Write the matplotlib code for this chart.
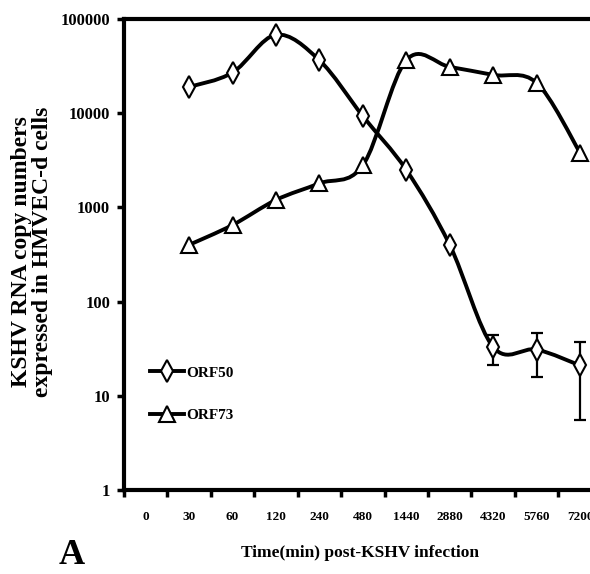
import numpy as np
import matplotlib.pyplot as plt
from matplotlib.path import Path
from matplotlib.patches import PathPatch
from matplotlib.lines import Line2D
from matplotlib.ticker import NullLocator

plt.rcParams['font.family'] = ['Liberation Serif', 'DejaVu Serif']
plt.rcParams['font.weight'] = 'bold'

# time points (categories) and data
times = ['0', '30', '60', '120', '240', '480', '1440', '2880', '4320', '5760', '7200']
data_times = times[1:]
orf50 = [19000, 27000, 68000, 36500, 9300, 2500, 400, 33, 31, 21]
orf73 = [400, 650, 1200, 1800, 2800, 36500, 31000, 25500, 21000, 3800]
err_times = ['4320', '5760', '7200']
err_low = [21, 16, 5.5]
err_high = [44, 46, 37]
y_ticks = [1, 10, 100, 1000, 10000, 100000]


def smooth_path(xs, ys):
    # excel-like smoothed line, built as cubic bezier segments in log space
    p = np.column_stack([np.asarray(xs, float), np.log10(ys)])
    n = len(p)
    verts = [p[0]]
    codes = [Path.MOVETO]
    for i in range(n - 1):
        a = p[max(i - 1, 0)]
        b = p[i]
        c = p[i + 1]
        d = p[min(i + 2, n - 1)]
        verts += [b + (c - a) / 6, c - (d - b) / 6, c]
        codes += [Path.CURVE4] * 3
    verts = np.array(verts)
    verts[:, 1] = 10 ** verts[:, 1]
    return Path(verts, codes)


fig = plt.figure(figsize=(5.9, 5.74), dpi=100)
ax = fig.add_axes([0.210, 0.1463, 0.810, 0.8206])
ax.set_yscale('log')
ax.set_xlim(-0.5, len(times) - 0.5)
ax.set_ylim(1, 100000)

xs = [times.index(t) for t in data_times]
ex = [times.index(t) for t in err_times]
ey = [orf50[data_times.index(t)] for t in err_times]
yerr = [np.array(ey) - np.array(err_low), np.array(err_high) - np.array(ey)]

ax.errorbar(ex, ey, yerr=yerr, fmt='none', ecolor='black', elinewidth=1.6,
            capsize=4.5, capthick=1.6, zorder=2)

for vals in (orf50, orf73):
    ax.add_patch(PathPatch(smooth_path(xs, vals), fill=False, ec='black',
                           lw=2.8, capstyle='round', joinstyle='round', zorder=2))

ax.plot(xs, orf50, ls='none', marker='d', ms=11, mfc='white', mec='black', mew=1.5, zorder=3)
ax.plot(xs, orf73, ls='none', marker='^', ms=11, mfc='white', mec='black', mew=1.5, zorder=3)

# axes styling
for s in ('left', 'bottom', 'top'):
    ax.spines[s].set_linewidth(3)
ax.spines['right'].set_visible(False)

ax.set_yticks(y_ticks, labels=[str(v) for v in y_ticks])
ax.yaxis.set_minor_locator(NullLocator())
ax.tick_params(axis='y', which='major', length=5, width=2.5, pad=5, labelsize=12)

ax.set_xticks(np.arange(-0.5, len(times)), labels=[''] * (len(times) + 1))
ax.set_xticks(np.arange(len(times)), labels=times, minor=True)
ax.tick_params(axis='x', which='major', length=5, width=2.5)
ax.tick_params(axis='x', which='minor', length=0, pad=15, labelsize=9.5)

fig.text(32 / 590, 1 - 252 / 574, 'KSHV RNA copy numbers\nexpressed in HMVEC-d cells',
         rotation=90, ha='center', va='center', fontsize=17, fontweight='bold',
         linespacing=0.95)
fig.text(360 / 590, 1 - 553 / 574, 'Time(min) post-KSHV infection',
         ha='center', va='center', fontsize=12.5, fontweight='bold')
fig.text(72 / 590, 1 - 556 / 574, 'A', ha='center', va='center',
         fontsize=26, fontweight='bold')

handles = [
    Line2D([], [], color='black', lw=2.8, marker='d', ms=11, mfc='white', mec='black', mew=1.5),
    Line2D([], [], color='black', lw=2.8, marker='^', ms=11, mfc='white', mec='black', mew=1.5),
]
ax.legend(handles, ['ORF50', 'ORF73'], loc='upper left',
          bbox_to_anchor=(150 / 590, 1 - 366 / 574), bbox_transform=fig.transFigure,
          frameon=False, fontsize=11, handlelength=2.2, handletextpad=0.2,
          labelspacing=1.9, borderpad=0, borderaxespad=0)

fig.savefig('out.png', dpi=100)
